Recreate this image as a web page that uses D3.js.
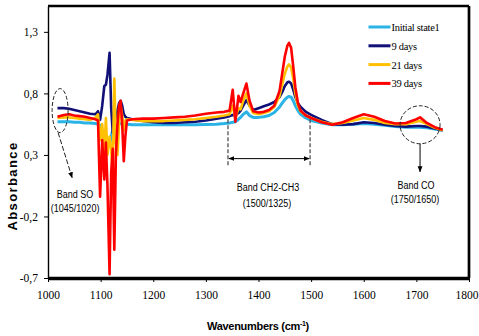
<!DOCTYPE html>
<html>
<head>
<meta charset="utf-8">
<script src="https://cdn.jsdelivr.net/npm/d3@7"></script>
<style>
  body { margin: 0; background: #fff; }
  svg { display: block; }
  .tick text { font-family: "Liberation Serif", "Times New Roman", serif; font-size: 11.5px; fill: #000; }
  .note { font-family: "Liberation Sans", Arial, sans-serif; font-size: 11px; fill: #000; }
</style>
</head>
<body>
<script>
// wavenumber grid (cm-1)
var waves = [1018, 1030, 1040, 1050, 1060, 1070, 1080, 1090, 1095, 1099,
    1103, 1107, 1110, 1113, 1117, 1120, 1123, 1126, 1129, 1132,
    1135, 1138, 1141, 1144, 1147, 1150, 1160, 1180, 1200, 1220,
    1240, 1260, 1280, 1300, 1320, 1335, 1345, 1351, 1356, 1362,
    1366, 1371, 1377, 1383, 1390, 1400, 1410, 1420, 1430, 1440,
    1445, 1450, 1455, 1458, 1462, 1466, 1470, 1475, 1480, 1490,
    1500, 1520, 1540, 1560, 1580, 1600, 1620, 1640, 1660, 1680,
    1700, 1707, 1720, 1735, 1750];

var initialState = [0.57, 0.57, 0.57, 0.565, 0.565, 0.56, 0.56, 0.555, 0.55, 0.54,
    0.50, 0.45, 0.40, 0.42, 0.38, 0.45, 0.50, 0.48, 0.52, 0.54,
    0.55, 0.555, 0.55, 0.55, 0.55, 0.55, 0.545, 0.545, 0.545, 0.545,
    0.545, 0.545, 0.545, 0.548, 0.55, 0.555, 0.56, 0.565, 0.57, 0.59,
    0.605, 0.63, 0.65, 0.62, 0.605, 0.605, 0.61, 0.62, 0.645, 0.69,
    0.72, 0.75, 0.77, 0.775, 0.77, 0.74, 0.70, 0.66, 0.63, 0.60,
    0.58, 0.56, 0.545, 0.545, 0.55, 0.555, 0.55, 0.54, 0.53, 0.525,
    0.525, 0.525, 0.52, 0.51, 0.50];

var days9 = [0.68, 0.68, 0.675, 0.665, 0.655, 0.645, 0.635, 0.63, 0.655, 0.585,
    0.70, 0.86, 0.87, 0.95, 1.13, 0.69, 0.48, 0.55, 0.62, 0.66,
    0.72, 0.74, 0.70, 0.63, 0.61, 0.60, 0.59, 0.575, 0.565, 0.56,
    0.56, 0.565, 0.57, 0.58, 0.595, 0.605, 0.615, 0.625, 0.62, 0.64,
    0.66, 0.70, 0.745, 0.70, 0.665, 0.68, 0.695, 0.71, 0.73, 0.77,
    0.81, 0.86, 0.89, 0.895, 0.88, 0.83, 0.77, 0.72, 0.69, 0.65,
    0.625, 0.585, 0.55, 0.545, 0.55, 0.565, 0.56, 0.545, 0.535, 0.53,
    0.535, 0.535, 0.53, 0.515, 0.50];

var days21 = [0.60, 0.605, 0.605, 0.60, 0.595, 0.59, 0.585, 0.60, 0.63, 0.42,
    0.55, 0.30, 0.60, 0.30, 0.45, 0.35, 0.15, 0.92, 0.40, 0.30,
    0.55, 0.70, 0.62, 0.50, 0.58, 0.59, 0.585, 0.575, 0.575, 0.575,
    0.58, 0.585, 0.59, 0.60, 0.61, 0.62, 0.63, 0.70, 0.60, 0.68,
    0.67, 0.74, 0.80, 0.70, 0.64, 0.63, 0.64, 0.655, 0.69, 0.78,
    0.87, 0.96, 1.02, 1.035, 1.01, 0.92, 0.80, 0.70, 0.655, 0.62,
    0.60, 0.57, 0.55, 0.56, 0.58, 0.60, 0.585, 0.56, 0.55, 0.55,
    0.57, 0.575, 0.55, 0.52, 0.50];

var days39 = [0.61, 0.625, 0.63, 0.62, 0.615, 0.61, 0.60, 0.59, 0.58, -0.04,
    0.42, 0.10, 0.40, 0.05, -0.67, 0.15, 0.35, -0.47, 0.30, 0.55,
    0.70, 0.74, 0.55, 0.25, 0.45, 0.58, 0.59, 0.595, 0.595, 0.60,
    0.605, 0.61, 0.62, 0.635, 0.645, 0.65, 0.66, 0.83, 0.57, 0.78,
    0.73, 0.80, 0.88, 0.74, 0.655, 0.645, 0.65, 0.665, 0.70, 0.82,
    0.96, 1.10, 1.19, 1.21, 1.17, 1.02, 0.85, 0.72, 0.66, 0.62,
    0.60, 0.565, 0.545, 0.565, 0.60, 0.63, 0.61, 0.575, 0.555, 0.56,
    0.59, 0.605, 0.56, 0.525, 0.505];

var seriesNames = ["Initial state1", "9 days", "21 days", "39 days"];
var seriesColors = ["#2bb3e6", "#101078", "#ffc000", "#ff0000"];
var xTicks = [1000, 1100, 1200, 1300, 1400, 1500, 1600, 1700, 1800];
var yTicks = [-0.7, -0.2, 0.3, 0.8, 1.3];

var width = 479, height = 336;
var margin = {top: 6, right: 10, bottom: 58, left: 48};
var w = width - margin.left - margin.right;
var h = height - margin.top - margin.bottom;

var svg = d3.select("body").append("svg")
    .attr("width", width)
    .attr("height", height);

var defs = svg.append("defs");
defs.append("marker")
    .attr("id", "head")
    .attr("viewBox", "0 0 10 10")
    .attr("refX", 9).attr("refY", 5)
    .attr("markerWidth", 6).attr("markerHeight", 6)
    .attr("orient", "auto-start-reverse")
    .append("path")
    .attr("d", "M0,1L10,5L0,9Z")
    .attr("fill", "#000");

var g = svg.append("g")
    .attr("transform", "translate(" + margin.left + "," + margin.top + ")");

var x = d3.scaleLinear().domain([1000, 1800]).range([0, w]);
var y = d3.scaleLinear().domain([-0.7, 1.51]).range([h, 0]);

// series
var allSeries = [initialState, days9, days21, days39];
var line = d3.line()
    .x(function(d, i) { return x(waves[i]); })
    .y(function(d) { return y(d); });

allSeries.forEach(function(vals, k) {
    g.append("path")
        .datum(vals)
        .attr("fill", "none")
        .attr("stroke", seriesColors[k])
        .attr("stroke-width", k == 0 ? 3 : 2.6)
        .attr("stroke-linejoin", "round")
        .attr("d", line);
});

// axes
var fmt = function(d) { return d3.format(".1f")(d).replace(".", ",").replace("−", "-"); };

g.append("g")
    .attr("class", "axis axis--y")
    .call(d3.axisLeft(y).tickValues(yTicks).tickSize(4).tickSizeOuter(0).tickPadding(6).tickFormat(fmt))
    .call(function(a) { a.select(".domain").attr("stroke-width", 1.4); });

g.append("g")
    .attr("class", "axis axis--x")
    .attr("transform", "translate(0," + h + ")")
    .call(d3.axisBottom(x).tickValues(xTicks).tickSize(4).tickSizeOuter(0).tickPadding(9).tickFormat(d3.format("d")))
    .call(function(a) {
        a.select(".domain").attr("stroke-width", 3.4);
        // last label sits against the right edge
        a.selectAll(".tick text").filter(function(d) { return d == 1800; })
            .attr("text-anchor", "end").attr("x", 9);
    });

// top and right frame
g.append("line").attr("x1", 0).attr("x2", w).attr("y1", 0).attr("y2", 0)
    .attr("stroke", "#000").attr("stroke-width", 2.7);
g.append("line").attr("x1", w).attr("x2", w).attr("y1", 0).attr("y2", h)
    .attr("stroke", "#000").attr("stroke-width", 2.7);

// axis titles
svg.append("text")
    .attr("transform", "translate(16.5," + 186 + ") rotate(-90)")
    .attr("text-anchor", "middle")
    .style("font-family", "Liberation Sans, Arial, sans-serif")
    .style("font-weight", "bold")
    .style("font-size", "13px")
    .style("letter-spacing", "1.4px")
    .text("Absorbance");

var xt = svg.append("text")
    .attr("x", 258).attr("y", 330)
    .attr("text-anchor", "middle")
    .style("font-family", "Liberation Sans, Arial, sans-serif")
    .style("font-weight", "bold")
    .style("font-size", "11px")
    .style("letter-spacing", "-0.3px");
xt.append("tspan").text("Wavenumbers (cm");
xt.append("tspan").attr("dy", -4).style("font-size", "7px").text("-1");
xt.append("tspan").attr("dy", 4).text(")");

// legend
var legend = g.append("g").attr("transform", "translate(" + (x(1609)) + ",0)");
seriesNames.forEach(function(name, k) {
    var ly = 21 + k * 18.8;
    legend.append("line")
        .attr("x1", 0).attr("x2", 22).attr("y1", ly).attr("y2", ly)
        .attr("stroke", seriesColors[k]).attr("stroke-width", 3);
    legend.append("text")
        .attr("x", 23).attr("y", ly + 4)
        .style("font-family", "Liberation Serif, Times New Roman, serif")
        .style("font-size", "10.5px")
        .style("letter-spacing", "-0.3px")
        .text(name);
});

// narrow annotation text
function note(px, py, txt) {
    g.append("text")
        .attr("class", "note")
        .attr("transform", "translate(" + px + "," + py + ") scale(0.82,1)")
        .attr("text-anchor", "middle")
        .text(txt);
}

// annotation: band SO
var soX = x(1023), soY = y(0.66);
g.append("ellipse")
    .attr("cx", soX).attr("cy", soY).attr("rx", 8).attr("ry", 22)
    .attr("fill", "none").attr("stroke", "#222").attr("stroke-width", 1)
    .attr("stroke-dasharray", "4,2");
g.append("line")
    .attr("x1", soX - 2).attr("y1", soY + 22).attr("x2", soX + 12).attr("y2", soY + 67)
    .attr("stroke", "#222").attr("stroke-width", 1).attr("stroke-dasharray", "5,2")
    .attr("marker-end", "url(#head)");
note(soX + 15, 192, "Band SO");
note(soX + 15, 206, "(1045/1020)");

// annotation: band CH2-CH3
var chL = x(1342), chR = x(1498), chY = y(0.27);
[chL, chR].forEach(function(px) {
    g.append("line")
        .attr("x1", px).attr("x2", px).attr("y1", y(0.59)).attr("y2", y(0.2))
        .attr("stroke", "#444").attr("stroke-width", 1.2).attr("stroke-dasharray", "4,2");
});
g.append("line")
    .attr("x1", chL + 1).attr("x2", chR - 1).attr("y1", chY).attr("y2", chY)
    .attr("stroke", "#000").attr("stroke-width", 1)
    .attr("marker-start", "url(#head)").attr("marker-end", "url(#head)");
note((chL + chR) / 2 - 1, 185, "Band CH2-CH3");
note((chL + chR) / 2 - 2, 200.5, "(1500/1325)");

// annotation: band CO
var coX = x(1707), coY = y(0.545);
g.append("ellipse")
    .attr("cx", coX).attr("cy", coY).attr("rx", 20).attr("ry", 19)
    .attr("fill", "none").attr("stroke", "#222").attr("stroke-width", 1)
    .attr("stroke-dasharray", "4,2");
g.append("line")
    .attr("x1", coX).attr("x2", coX).attr("y1", coY + 19).attr("y2", coY + 47)
    .attr("stroke", "#000").attr("stroke-width", 1)
    .attr("marker-end", "url(#head)");
note(coX - 4, 183, "Band CO");
note(coX - 5, 196.5, "(1750/1650)");
</script>
</body>
</html>
